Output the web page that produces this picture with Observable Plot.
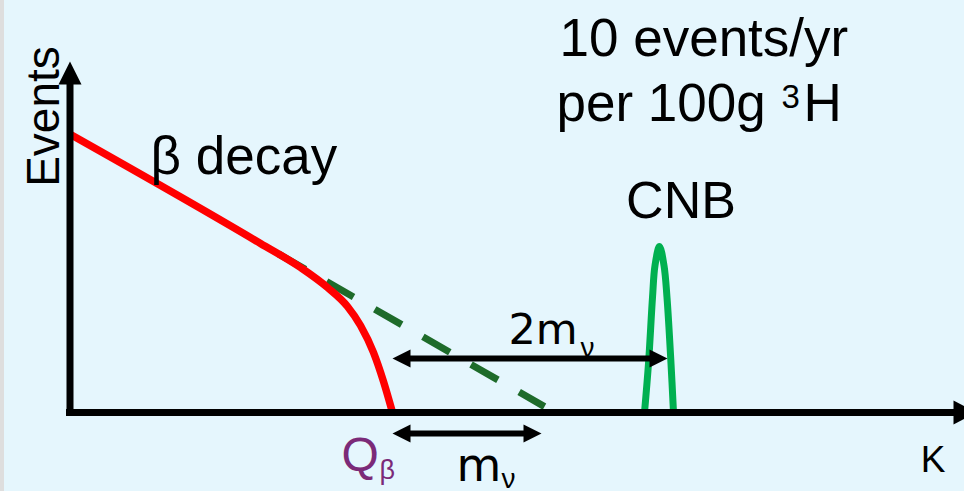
<!DOCTYPE html>
<html>
<head>
<meta charset="utf-8">
<script src="https://cdn.jsdelivr.net/npm/d3@7"></script>
<script src="https://cdn.jsdelivr.net/npm/@observablehq/plot@0.6"></script>
<style>
  html, body { margin: 0; padding: 0; }
  body {
    width: 964px; height: 491px; overflow: hidden;
    background: linear-gradient(to right, #dedede 0, #dedede 4px, #e5f6fd 4px);
  }
  svg { display: block; }
</style>
</head>
<body>
<div id="chart"></div>
<script>
// Electron kinetic energy K and event rate, both in arbitrary units.

// beta-decay spectrum with a massive neutrino, ending at Qβ
const spectrumK      = [0, 19.0, 23.0, 25.7, 27.7, 29.0, 30.3, 31.3, 32.2];
const spectrumEvents = [27.8, 16.9, 14.5, 12.5, 10.6, 8.7, 6.0, 3.1, 0];

// the same spectrum for a massless neutrino (tail only)
const masslessK      = [20.8, 47.4];
const masslessEvents = [15.86, 0.59];

// relic-neutrino (CNB) capture line
const cnbK      = [57.4, 57.8, 58.2, 58.45, 58.9, 59.35, 59.65, 60.05, 60.3];
const cnbEvents = [0, 4.9, 11.5, 14.7, 16.6, 14.7, 11.5, 4.9, 0];

// endpoint and the two gaps marked with arrows
const qBeta   = 32.2;
const massEnd = 47.1;   // Qβ + mν
const cnbEnd  = 59.7;   // to the CNB line (2mν)

const kMax = 89.4;
const eventsMax = 41.2;

const spectrum = spectrumK.map((k, i) => ({k, n: spectrumEvents[i]}));
const massless = masslessK.map((k, i) => ({k, n: masslessEvents[i]}));
const cnb = cnbK.map((k, i) => ({k, n: cnbEvents[i]}));

// filled arrowheads as custom symbols, tip at the anchor point
const shape = (pts) => ({
  draw(ctx) {
    ctx.moveTo(pts[0][0], pts[0][1]);
    for (const p of pts.slice(1)) ctx.lineTo(p[0], p[1]);
    ctx.closePath();
  }
});
const headRight = (len, half) => shape([[0, 0], [-len, -half], [-len, half]]);
const headLeft  = (len, half) => shape([[0, 0], [len, -half], [len, half]]);
const headUp    = (len, half) => shape([[0, 0], [-half, len], [half, len]]);

function doubleArrow(from, to, level) {
  return [
    Plot.ruleY([level], {x1: from + 1.2, x2: to - 1.2, stroke: "black", strokeWidth: 6}),
    Plot.dot([{k: from, n: level}], {x: "k", y: "n", symbol: headLeft(18, 9), fill: "black", stroke: "none"}),
    Plot.dot([{k: to, n: level}], {x: "k", y: "n", symbol: headRight(18, 9), fill: "black", stroke: "none"})
  ];
}

const sans = "Liberation Sans, Arial, sans-serif";
const dejavu = "DejaVu Sans, sans-serif";

const chart = Plot.plot({
  width: 964,
  height: 491,
  marginLeft: 70,
  marginRight: 0,
  marginTop: 0,
  marginBottom: 79,
  style: {background: "transparent", overflow: "visible", fontFamily: sans},
  x: {domain: [0, kMax], axis: null},
  y: {domain: [0, eventsMax], axis: null},
  marks: [
    // massless tail (dashed) under the massive spectrum
    Plot.line(massless, {x: "k", y: "n", stroke: "#1e6b2a", strokeWidth: 7, strokeDasharray: "31,24.5", strokeLinecap: "butt"}),
    Plot.line(spectrum, {x: "k", y: "n", stroke: "#ff0000", strokeWidth: 7.5, curve: "monotone-x", strokeLinecap: "butt"}),
    Plot.line(cnb, {x: "k", y: "n", stroke: "#00b050", strokeWidth: 7, curve: "catmull-rom", strokeLinejoin: "round"}),

    // axes with arrowheads
    Plot.ruleY([0], {x1: -0.4, x2: 88.5, stroke: "black", strokeWidth: 7}),
    Plot.ruleX([-0.05], {y1: -0.35, y2: 33.0, stroke: "black", strokeWidth: 7}),
    Plot.dot([{k: -0.05, n: 35.1}], {x: "k", y: "n", symbol: headUp(23, 11.5), fill: "black", stroke: "none"}),
    Plot.dot([{k: 90.6, n: 0}], {x: "k", y: "n", symbol: headRight(23, 12), fill: "black", stroke: "none"}),

    // gaps: Qβ to the CNB line, Qβ to the massless endpoint
    ...doubleArrow(qBeta, cnbEnd, 5.4),
    ...doubleArrow(qBeta, massEnd, -2.1),

    // labels
    Plot.text(["Events"], {x: -1.2, y: 29.6, rotate: -90, textAnchor: "middle", lineAnchor: "bottom", fontSize: 46, fill: "black"}),
    Plot.text(["β decay"], {x: 8.0, y: 23.9, textAnchor: "start", lineAnchor: "bottom", fontSize: 53, fill: "black"}),
    Plot.text(["10 events/yr"], {x: 48.9, y: 35.7, textAnchor: "start", lineAnchor: "bottom", fontSize: 53, fill: "black"}),
    Plot.text(["per 100g"], {x: 48.6, y: 29.2, textAnchor: "start", lineAnchor: "bottom", fontSize: 53, fill: "black"}),
    Plot.text(["3"], {x: 71.1, y: 30.5, textAnchor: "start", lineAnchor: "bottom", fontSize: 33, fill: "black"}),
    Plot.text(["H"], {x: 73.3, y: 29.2, textAnchor: "start", lineAnchor: "bottom", fontSize: 53, fill: "black"}),
    Plot.text(["CNB"], {x: 61.05, y: 19.5, textAnchor: "middle", lineAnchor: "bottom", fontSize: 52, fill: "black"}),
    Plot.text(["2m"], {x: 43.8, y: 6.9, textAnchor: "start", lineAnchor: "bottom", fontSize: 43, fontFamily: dejavu, fill: "black"}),
    Plot.text(["ν"], {x: 51.0, y: 5.6, textAnchor: "start", lineAnchor: "bottom", fontSize: 28, fill: "black"}),
    Plot.text(["m"], {x: 38.6, y: -6.8, textAnchor: "start", lineAnchor: "bottom", fontSize: 46, fontFamily: dejavu, fill: "black"}),
    Plot.text(["ν"], {x: 43.1, y: -7.5, textAnchor: "start", lineAnchor: "bottom", fontSize: 28, fill: "black"}),
    Plot.text(["Q"], {x: 27.1, y: -5.8, textAnchor: "start", lineAnchor: "bottom", fontSize: 48, fill: "#7b2a78"}),
    Plot.text(["β"], {x: 30.9, y: -6.6, textAnchor: "start", lineAnchor: "bottom", fontSize: 27, fill: "#7b2a78"}),
    Plot.text(["K"], {x: 86.25, y: -5.9, textAnchor: "middle", lineAnchor: "bottom", fontSize: 37, fill: "black"})
  ]
});

document.getElementById("chart").append(chart);
</script>
</body>
</html>
